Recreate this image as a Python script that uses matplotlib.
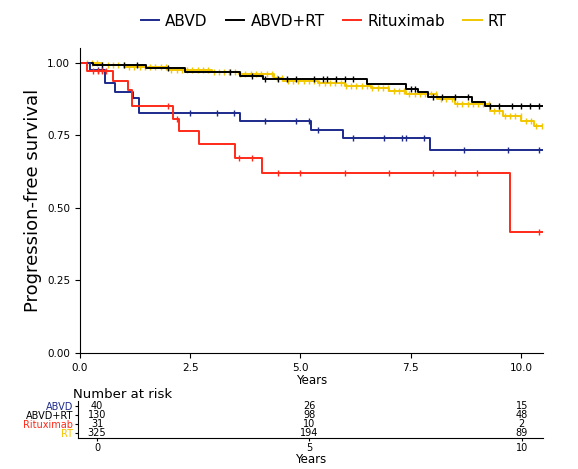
import matplotlib.pyplot as plt
import numpy as np

W, H = 578, 469
groups = ["ABVD", "ABVD+RT", "Rituximab", "RT"]
colors = ["#1c2a8c", "#000000", "#ff2a1a", "#f2c600"]

# step times and survival levels after each step
abvd_t = [0, 0.23, 0.57, 0.79, 1.2, 1.34, 3.63, 5.24, 5.96, 7.94]
abvd_s = [1.0, 0.975, 0.928, 0.90, 0.877, 0.826, 0.80, 0.768, 0.739, 0.70]
abvdrt_t = [0, 0.3, 1.5, 2.38, 3.63, 4.15, 6.5, 7.4, 7.67, 7.9, 8.9, 9.18]
abvdrt_s = [1.0, 0.99, 0.98, 0.968, 0.954, 0.943, 0.925, 0.91, 0.897, 0.88, 0.865, 0.849]
ritux_t = [0, 0.16, 0.75, 1.09, 1.18, 2.1, 2.25, 2.7, 3.51, 4.12, 9.75]
ritux_s = [1.0, 0.97, 0.935, 0.905, 0.851, 0.807, 0.764, 0.719, 0.673, 0.62, 0.415]
rt_t = [0, 0.5, 1.0, 2.0, 3.0, 3.6, 4.4, 4.6, 5.4, 6.0, 6.6, 7.0, 7.4, 8.1, 8.5, 9.3, 9.6, 10.0, 10.3]
rt_s = [1.0, 0.99, 0.985, 0.975, 0.967, 0.962, 0.948, 0.937, 0.928, 0.92, 0.912, 0.903, 0.89, 0.876, 0.857, 0.834, 0.817, 0.80, 0.78]

# censoring times
abvd_c = [0.4, 0.5, 2.5, 3.1, 3.5, 4.2, 4.9, 5.2, 5.4, 6.2, 6.9, 7.3, 7.4, 7.8, 8.7, 9.7, 10.4]
abvdrt_c = [0.5, 1.0, 1.3, 2.0, 3.4, 3.9, 4.2, 4.5, 4.7, 4.9, 5.3, 5.5, 5.6, 5.8, 6.0, 6.2, 7.5, 7.6, 8.0, 8.2, 8.5, 8.8, 9.3, 9.5, 9.8, 10.0, 10.2, 10.4]
ritux_c = [0.3, 0.4, 0.5, 0.6, 2.0, 2.2, 3.6, 3.9, 4.5, 5.0, 6.0, 7.0, 8.0, 8.5, 9.0, 10.4]
rt_c = list(np.arange(0.15, 10.5, 0.12))

risk_times = [0, 5, 10]
risk = [[40, 26, 15], [130, 98, 48], [31, 10, 2], [325, 194, 89]]

fig = plt.figure(figsize=(W / 100, H / 100), dpi=100)
ax = fig.add_axes([80 / W, 1 - 353 / H, 463 / W, 305 / H])

series = [(abvd_t, abvd_s, abvd_c), (abvdrt_t, abvdrt_s, abvdrt_c),
          (ritux_t, ritux_s, ritux_c), (rt_t, rt_s, rt_c)]
order = [3, 1, 0, 2]
for i in order:
    t, s, c = series[i]
    tt = t + [10.5]
    ss = s + [s[-1]]
    ax.step(tt, ss, where="post", color=colors[i], lw=1.4, label=groups[i])
    cs = [s[np.searchsorted(t, x, side="right") - 1] for x in c]
    ax.plot(c, cs, ls="none", marker="|", ms=5, mew=1, color=colors[i])

ax.set_xlim(0, 10.5)
ax.set_ylim(0, 1.05)
ax.set_yticks([0, 0.25, 0.5, 0.75, 1.0])
ax.set_yticklabels(["0.00", "0.25", "0.50", "0.75", "1.00"])
ax.set_xticks([0, 2.5, 5, 7.5, 10])
ax.set_xticklabels(["0.0", "2.5", "5.0", "7.5", "10.0"])
ax.tick_params(labelsize=7.5)
ax.margins(0)
for sp in ["top", "right"]:
    ax.spines[sp].set_visible(False)
ax.set_xlabel("Years", fontsize=8.5, labelpad=1)
ax.set_ylabel("Progression-free survival", fontsize=13)

h, l = ax.get_legend_handles_labels()
idx = [l.index(g) for g in groups]
fig.legend([h[k] for k in idx], groups, loc="upper center", ncol=4, frameon=False,
           bbox_to_anchor=(0.56, 1.0), fontsize=11, handlelength=1.2, columnspacing=1.2,
           handletextpad=0.4)

# risk table
rax = fig.add_axes([78 / W, 1 - 438 / H, 465 / W, 37 / H])
rax.set_xlim(-0.45, 10.5)
rax.set_ylim(-0.5, 3.5)
for i in range(4):
    for j, x in enumerate(risk_times):
        rax.text(x, 3 - i, str(risk[i][j]), ha="center", va="center", fontsize=7)
rax.set_yticks([3, 2, 1, 0])
rax.set_yticklabels(groups, fontsize=6.5)
for lab, c in zip(rax.get_yticklabels(), colors):
    lab.set_color(c)
rax.set_xticks(risk_times)
rax.tick_params(labelsize=7, pad=1, length=2.5)
for sp in ["top", "right"]:
    rax.spines[sp].set_visible(False)
rax.set_xlabel("Years", fontsize=8.5, labelpad=0)
rax.set_title("Number at risk", loc="left", fontsize=9.5, x=-0.01, pad=2)

fig.savefig("out.png", dpi=100)
